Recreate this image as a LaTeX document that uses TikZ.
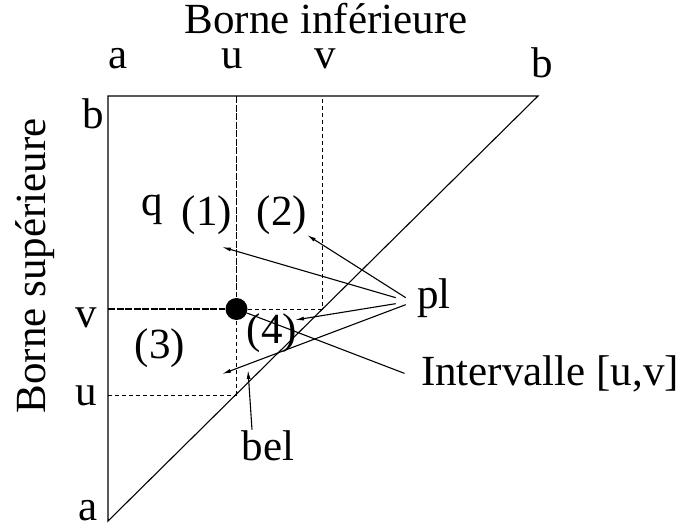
\documentclass[tikz,border=0pt]{standalone}
\usepackage{fontspec}
\setmainfont{Liberation Serif}
\usetikzlibrary{arrows.meta}
\def\xa{108}
\def\xu{236.5}
\def\xv{322}
\def\xb{538}
\def\yb{96}
\def\yv{309}
\def\yu{395}
\def\ya{521}
\def\dotSize{22pt}
\begin{document}
\begin{tikzpicture}[
    x=1pt, y=-1pt,
    line width=1.1pt,
    >={Latex[length=9pt,width=4pt]},
    every node/.style={font=\fontsize{43}{50}\selectfont, inner sep=0pt},
    guide/.style={dash pattern=on 4pt off 3pt, line width=0.9pt},
    guidefine/.style={dash pattern=on 7pt off 1.5pt},
    lab/.style={anchor=base}
]
\useasboundingbox (0,0) rectangle (680,528);

% corners of the triangle
\coordinate (A) at (\xa,\ya);
\coordinate (TL) at (\xa,\yb);
\coordinate (TR) at (\xb,\yb);
\draw (TL) -- (TR) -- (A) -- cycle;

% the interval [u,v]
\node[circle, fill, minimum size=\dotSize] (dot) at (\xu,\yv) {};
\draw[guidefine] (\xu,\yb) -- (dot);
\draw[guidefine] (\xa,\yv) -- (dot);
\draw[guide] (dot) -- (\xu,\yu);
\draw[guide] (dot) -- (\xv,\yv) -- (\xv,\yb);
\draw[guide] (\xa,\yu) -- (\xu,\yu);

% axes
\node[lab] (title) at (326,33) {Borne inférieure};
\node[lab, rotate=90] (ylab) at (45,266) {Borne supérieure};
\node[lab] (ta) at (118,68) {a};
\node[lab] (tu) at (232,68) {u};
\node[lab] (tv) at (325,68) {v};
\node[lab] (tb) at (542,77) {b};
\node[lab] (lb) at (93,128) {b};
\node[lab] (lv) at (86,327) {v};
\node[lab] (lu) at (86,405) {u};
\node[lab] (la) at (88,520) {a};

% regions
\node[lab] (q) at (152,215) {q};
\node[lab] (r1) at (207,225) {(1)};
\node[lab] (r2) at (282,225) {(2)};
\node[lab] (r3) at (160,358) {(3)};
\node[lab] (r4) at (272,343) {(4)};
\node[lab] (pl) at (434,308) {pl};
\node[lab] (iv) at (550,385) {Intervalle [u,v]};
\node[lab] (bel) at (268,460) {bel};

% pointers
\coordinate (t1) at (222,247);
\coordinate (t2) at (307,235);
\coordinate (t3) at (222,374);
\coordinate (t4) at (295,320);
\coordinate (tbel) at (248,370);
\draw[->] ([xshift=-21pt]pl.west) -- (t1);
\draw[->] ([xshift=-11pt]pl.west) -- (t2);
\draw[->] ([xshift=-21pt,yshift=-6pt]pl.west) -- (t4);
\draw[->] ([xshift=-11pt,yshift=-7pt]pl.west) -- (t3);
\draw (dot) -- ([xshift=-16pt]iv.west);
\draw[->] ([xshift=-16pt]bel.north) -- (tbel);
\end{tikzpicture}
\end{document}
